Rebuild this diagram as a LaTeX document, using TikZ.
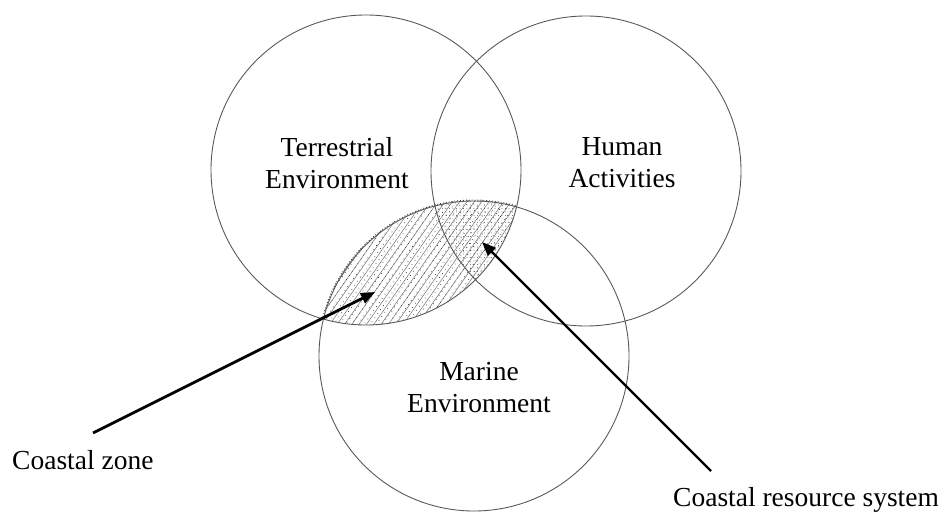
\documentclass[tikz,border=0pt]{standalone}
\usepackage{fontspec}
\setmainfont{Liberation Serif}
\usetikzlibrary{patterns.meta,arrows.meta}
\begin{document}
\begin{tikzpicture}[x=1pt,y=-1pt,
  venn/.style={draw=black!65,line width=0.9pt,circle,inner sep=0pt,minimum size=310pt},
  lbl/.style={font=\fontsize{27.5}{32}\selectfont,align=center,inner sep=0pt},
  pointer/.style={line width=2.7pt,-{Triangle[length=14pt,width=11pt]}}]
\useasboundingbox (0,0) rectangle (938,513);
% shaded lens (terrestrial ∩ marine)
\begin{scope}
  \clip (366,170) circle (155pt);
  \fill[pattern={Lines[angle=55,distance=6pt,line width=0.45pt]},pattern color=black!60] (474,356) circle (156pt);
  \fill[pattern={Dots[distance=5pt,radius=0.5pt,angle=55]},pattern color=black!80] (474,356) circle (156pt);
  \begin{scope}
    \clip (586,171) circle (155pt);
    \fill[pattern={Dots[distance=3.5pt,radius=0.45pt,xshift=1.5pt]},pattern color=black!80] (474,356) circle (156pt);
  \end{scope}
\end{scope}
\begin{scope}
  \clip (366,170) circle (155pt);
  \draw[black!75,line width=0.9pt,dotted] (474,356) circle (156pt);
\end{scope}
% circles
\node[venn] (terr) at (366,170) {};
\node[venn] (human) at (586,171) {};
\node[venn] (marine) at (474,356) {};
% circle labels
\node[lbl] (terrlbl) at (337,163) {Terrestrial\\Environment};
\node[lbl] (humanlbl) at (622,163) {Human\\Activities};
\node[lbl] (marinelbl) at (479,388) {Marine\\Environment};
% pointer labels
\node[lbl,anchor=west] (czlbl) at (12,460) {Coastal zone};
\node[lbl,anchor=west] (crslbl) at (673,500) {Coastal resource system};
\coordinate (czstart) at (93,433);
\coordinate (cztip) at (375,292);
\coordinate (crsstart) at (711,471);
\coordinate (crstip) at (482,242);
\draw[pointer] (czstart) -- (cztip);
\draw[pointer,line width=2.2pt] (crsstart) -- (crstip);
\end{tikzpicture}
\end{document}
